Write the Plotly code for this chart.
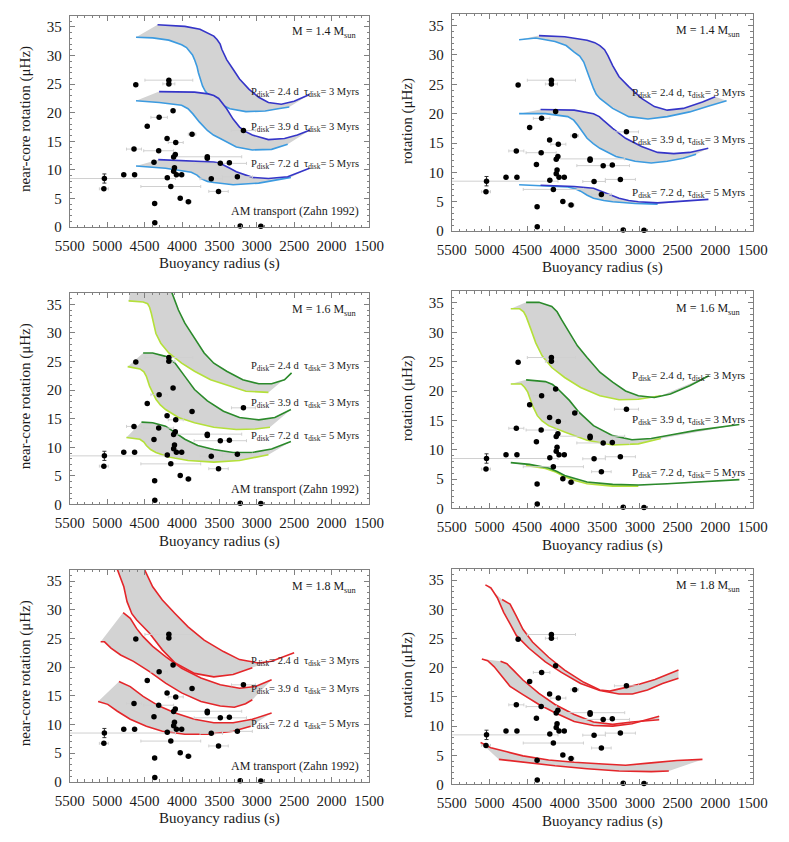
import plotly.graph_objects as go

# ---------------- data ----------------
x_tick_vals = [5500, 5000, 4500, 4000, 3500, 3000, 2500, 2000, 1500]
y_tick_vals = [0, 5, 10, 15, 20, 25, 30, 35]

obs_x = [5045, 5038, 4779, 4634, 4618, 4176, 4176, 4120, 4306, 4465, 3866, 3179, 4200, 4084,
         4642, 4312, 4090, 4112, 4375, 3662, 3662, 3488, 3367, 4101, 4112, 4075, 4005, 4197,
         3609, 3260, 4150, 4024, 3915, 3512, 4366, 4364, 3222, 2946]
obs_y = [6.7, 8.5, 9.15, 9.15, 24.9, 25.7, 25.05, 20.35, 19.2, 17.65, 16.25, 16.9, 15.5, 14.8,
         13.65, 13.35, 12.7, 12.25, 11.35, 12.3, 12.05, 11.15, 11.25, 10.4, 9.75, 9.15, 9.15, 8.65,
         8.45, 8.8, 7.1, 5.05, 4.45, 6.25, 4.15, 0.75, 0.2, 0.15]
obs_xerr = [60, 950, 0, 0, 0, 320, 80, 0, 110, 0, 50, 160, 0, 100,
            100, 200, 0, 0, 0, 460, 0, 350, 0, 0, 0, 0, 0, 0,
            150, 200, 400, 0, 40, 130, 0, 0, 0, 0]
obs_yerr = [0, 0.8, 0, 0, 0, 0, 0, 0, 0, 0, 0, 0, 0, 0,
            0, 0, 0, 0, 0, 0, 0, 0, 0, 0, 0, 0, 0, 0,
            0, 0, 0, 0, 0, 0, 0, 0, 0, 0]

# Panel 1: M = 1.4, near-core rotation (Zahn 1992)
p1_a_up = [(4327, 35.4), (3962, 35.1), (3760, 34.6), (3661, 34.0), (3575, 33.4), (3532, 32.8), (3490, 32.0),
           (3468, 31.1), (3403, 29.3), (3317, 27.6), (3231, 25.9), (3103, 24.1), (2974, 22.7), (2845, 21.8),
           (2673, 21.5), (2501, 22.0), (2295, 23.2)]
p1_a_lo = [(4615, 33.2), (4392, 33.1), (4177, 32.7), (4005, 31.9), (3940, 31.4), (3897, 30.8), (3860, 30.1),
           (3833, 29.3), (3800, 28.1), (3781, 27.0), (3726, 24.7), (3690, 23.8), (3640, 23.0), (3532, 21.8),
           (3360, 20.7), (3146, 20.2), (2888, 20.3), (2716, 20.7), (2566, 21.0)]
p1_b_up = [(4306, 23.7), (3833, 23.6), (3650, 23.3), (3575, 23.0), (3510, 22.5), (3468, 21.8), (3403, 20.7),
           (3317, 18.9), (3231, 17.5), (3150, 16.7), (3060, 16.1), (2845, 15.3), (2630, 15.5), (2458, 16.1),
           (2286, 17.0)]
p1_b_lo = [(4615, 22.1), (4306, 21.8), (4005, 21.3), (3920, 20.7), (3855, 19.8), (3769, 18.4), (3661, 16.9),
           (3580, 16.1), (3489, 15.5), (3274, 14.0), (3060, 13.5), (2802, 13.6), (2587, 14.5)]
p1_c_up = [(4318, 11.8), (3876, 11.6), (3575, 11.4), (3500, 11.2), (3446, 10.9), (3360, 10.3), (3274, 9.7),
           (3160, 9.1), (3060, 8.7), (2845, 8.5), (2587, 8.8), (2295, 10.3)]
p1_c_lo = [(4615, 10.7), (4220, 10.3), (3876, 9.6), (3800, 9.1), (3747, 8.5), (3660, 8.0), (3575, 7.8),
           (3317, 7.4), (2974, 7.7), (2544, 8.7)]

# Panel 2: M = 1.4, rotation
p2_a_up = [(4341, 33.3), (4000, 33.1), (3702, 32.5), (3600, 32.1), (3532, 31.6), (3470, 30.9), (3425, 29.9),
           (3362, 28.2), (3277, 26.3), (3149, 24.6), (2978, 22.6), (2808, 21.2), (2637, 20.6), (2424, 20.9),
           (2169, 22.0), (2000, 22.9)]
p2_a_lo = [(4605, 32.6), (4384, 32.9), (4128, 32.3), (3980, 31.6), (3873, 30.5), (3800, 29.8), (3746, 28.8),
           (3710, 27.7), (3681, 26.5), (3617, 24.3), (3580, 23.3), (3532, 22.6), (3362, 20.9), (3149, 19.5),
           (2893, 19.1), (2637, 19.5), (2339, 20.3), (2084, 21.3), (1849, 22.2)]
p2_b_up = [(4320, 20.7), (3873, 20.6), (3617, 20.0), (3540, 19.5), (3489, 18.9), (3362, 17.5), (3191, 15.8),
           (2978, 14.4), (2765, 13.4), (2550, 13.2), (2339, 13.4), (2092, 14.1)]
p2_b_lo = [(4605, 20.0), (4256, 20.0), (3958, 19.5), (3880, 18.9), (3830, 18.1), (3760, 16.9), (3702, 15.8),
           (3620, 14.9), (3532, 14.1), (3319, 12.7), (3064, 11.9), (2850, 11.6), (2637, 11.9), (2424, 12.4),
           (2254, 13.1)]
p2_c_up = [(4320, 7.8), (3873, 7.6), (3617, 7.3), (3530, 6.9), (3447, 6.5), (3277, 5.6), (3150, 5.2),
           (3021, 5.0), (2765, 4.8), (2510, 5.0), (2190, 5.3), (2090, 5.4)]
p2_c_lo = [(4605, 7.9), (4256, 7.7), (3958, 7.5), (3860, 7.2), (3788, 6.8), (3700, 6.1), (3617, 5.6),
           (3480, 5.2), (3362, 5.0), (3064, 4.7), (2765, 4.6)]

# Panel 3: M = 1.6, near-core rotation (Zahn 1992)
p3_a_up = [(4650, 41.0), (4300, 40.0), (4134, 37.0), (4048, 34.0), (3962, 31.7), (3876, 29.9), (3790, 28.2),
           (3704, 26.5), (3575, 24.7), (3403, 23.3), (3188, 21.8), (2974, 21.1), (2802, 21.1), (2630, 21.8),
           (2535, 23.0)]
p3_a_lo = [(4714, 35.6), (4520, 35.4), (4460, 35.1), (4434, 34.5), (4410, 33.4), (4392, 32.2), (4349, 29.9),
           (4284, 28.2), (4177, 26.5), (4005, 24.7), (3833, 23.3), (3618, 21.8), (3360, 20.7), (3146, 19.8),
           (2845, 19.6)]
p3_b_up = [(4520, 26.5), (4392, 26.5), (4220, 25.9), (4091, 24.7), (3962, 22.4), (3833, 20.1), (3661, 18.1),
           (3446, 16.3), (3231, 15.2), (2974, 14.8), (2759, 15.2), (2544, 16.6)]
p3_b_lo = [(4727, 24.1), (4563, 23.7), (4510, 23.2), (4477, 22.4), (4434, 20.7), (4349, 18.4), (4290, 17.4),
           (4220, 16.6), (4048, 15.2), (3833, 14.3), (3575, 13.5), (3274, 13.1), (3017, 13.2), (2824, 13.5)]
p3_c_up = [(4542, 14.4), (4392, 14.3), (4220, 13.7), (4091, 12.6), (3962, 11.4), (3790, 10.3), (3575, 9.6),
           (3317, 9.1), (3060, 9.1), (2802, 9.7), (2544, 11.0)]
p3_c_lo = [(4744, 11.7), (4563, 11.4), (4510, 10.9), (4477, 10.3), (4420, 9.6), (4349, 9.1), (4177, 8.3),
           (3919, 7.7), (3575, 7.4), (3231, 7.7), (2845, 8.7)]

# Panel 4: M = 1.6, rotation
p4_a_up = [(4512, 35.1), (4341, 35.1), (4171, 34.4), (4100, 33.5), (4043, 32.2), (3937, 29.9), (3830, 27.7),
           (3702, 25.7), (3532, 23.2), (3362, 21.5), (3191, 20.0), (3021, 19.2), (2808, 18.9), (2595, 19.5),
           (2339, 20.9), (2084, 22.6)]
p4_a_lo = [(4716, 34.0), (4597, 34.0), (4545, 33.5), (4512, 32.7), (4448, 30.5), (4384, 28.2), (4299, 26.0),
           (4171, 24.0), (4000, 22.3), (3788, 20.6), (3532, 19.2), (3277, 18.5), (3021, 18.6), (2722, 19.2)]
p4_b_up = [(4512, 21.9), (4256, 21.6), (4160, 21.1), (4086, 20.3), (3937, 18.4), (3810, 16.4), (3617, 14.1),
           (3362, 12.4), (3106, 11.7), (2850, 11.9), (2595, 12.5), (2254, 13.3), (1679, 14.3)]
p4_b_lo = [(4716, 21.2), (4576, 21.2), (4530, 20.6), (4490, 19.8), (4427, 17.5), (4363, 15.8), (4300, 14.9),
           (4213, 14.1), (4000, 13.0), (3702, 11.6), (3362, 10.8), (3021, 11.0), (2722, 11.9)]
p4_c_up = [(4716, 7.8), (4469, 7.5), (4213, 6.9), (4100, 6.3), (4000, 5.6), (3850, 5.0), (3702, 4.5),
           (3362, 4.1), (3021, 4.0), (2637, 4.2), (2169, 4.5), (1679, 4.9)]
p4_c_lo = [(4512, 7.3), (4256, 6.8), (4120, 6.2), (4000, 5.4), (3850, 4.7), (3702, 4.2), (3362, 3.8),
           (3021, 3.8)]

# Panel 5: M = 1.8, near-core rotation (Zahn 1992)
p5_a_up = [(4580, 40.0), (4520, 37.5), (4392, 34.0), (4263, 31.7), (4091, 29.3), (3919, 27.0), (3704, 24.7),
           (3446, 22.7), (3231, 21.3), (2974, 20.7), (2802, 21.0), (2630, 21.8), (2501, 22.5)]
p5_a_lo = [(4900, 40.0), (4864, 37.0), (4778, 34.0), (4735, 31.4), (4671, 29.3), (4606, 28.2), (4434, 25.9),
           (4263, 23.0), (4091, 20.7), (3833, 18.9), (3575, 18.3), (3317, 18.7), (3060, 19.9)]
p5_b_up = [(4787, 29.5), (4692, 28.5), (4606, 26.7), (4520, 25.3), (4392, 23.6), (4220, 21.8), (4005, 19.8),
           (3747, 18.1), (3489, 16.9), (3231, 16.3), (3017, 16.6), (2802, 17.8)]
p5_b_lo = [(5088, 24.4), (5036, 24.4), (4950, 23.3), (4821, 22.1), (4649, 21.0), (4434, 19.2), (4220, 17.2),
           (4005, 15.5), (3747, 14.0), (3489, 13.2), (3300, 13.0), (3150, 13.6), (3060, 14.3)]
p5_c_up = [(4843, 17.5), (4692, 16.6), (4520, 14.9), (4306, 13.2), (4091, 12.0), (3833, 10.9), (3575, 10.3),
           (3317, 10.3), (3060, 10.9), (2802, 12.0)]
p5_c_lo = [(5122, 14.0), (4993, 13.5), (4864, 12.3), (4692, 10.9), (4477, 9.7), (4263, 8.8), (3962, 8.3),
           (3661, 8.3), (3317, 8.8), (3081, 9.7)]

# Panel 6: M = 1.8, rotation
p6_a_up = [(4831, 31.7), (4725, 30.9), (4640, 28.8), (4554, 26.6), (4427, 24.4), (4213, 21.8), (4000, 19.6),
           (3745, 17.5), (3532, 16.2), (3400, 16.0), (3200, 16.6), (3000, 17.2), (2800, 18.0), (2600, 19.0),
           (2488, 19.6)]
p6_a_lo = [(5053, 34.2), (4980, 33.7), (4895, 32.0), (4810, 29.5), (4725, 27.5), (4640, 25.5), (4470, 23.3),
           (4256, 21.0), (4043, 19.2), (3788, 17.3), (3532, 16.1), (3277, 15.5), (3100, 15.5), (2900, 16.2),
           (2700, 17.3), (2488, 18.2)]
p6_b_up = [(4852, 21.1), (4767, 20.7), (4682, 19.6), (4554, 17.9), (4341, 15.6), (4128, 13.7), (3873, 12.0),
           (3617, 10.7), (3362, 10.3), (3106, 10.7), (2744, 11.1)]
p6_b_lo = [(5100, 21.5), (5023, 21.2), (4938, 20.2), (4831, 18.5), (4725, 16.8), (4554, 15.4), (4341, 13.7),
           (4128, 12.3), (3873, 10.8), (3617, 10.1), (3362, 10.0), (3106, 10.4), (2744, 11.7)]
p6_c_up = [(5117, 7.2), (4980, 6.3), (4767, 5.6), (4554, 4.9), (4213, 4.2), (3873, 3.8), (3490, 3.5),
           (3191, 3.3), (2850, 3.7), (2510, 4.1), (2169, 4.3)]
p6_c_lo = [(4874, 4.3), (4554, 3.8), (4128, 3.2), (3702, 2.7), (3277, 2.3), (2850, 2.2), (2616, 2.3)]

band_labels_left = ["P<sub>disk</sub>= 2.4 d  τ<sub>disk</sub>= 3 Myrs",
                    "P<sub>disk</sub>= 3.9 d  τ<sub>disk</sub>= 3 Myrs",
                    "P<sub>disk</sub>= 7.2 d  τ<sub>disk</sub>= 5 Myrs"]
band_labels_right = ["P<sub>disk</sub>= 2.4 d, τ<sub>disk</sub>= 3 Myrs",
                     "P<sub>disk</sub>= 3.9 d, τ<sub>disk</sub>= 3 Myrs",
                     "P<sub>disk</sub>= 7.2 d, τ<sub>disk</sub>= 5 Myrs"]
mass_labels = ["M = 1.4 M<sub>sun</sub>", "M = 1.4 M<sub>sun</sub>",
               "M = 1.6 M<sub>sun</sub>", "M = 1.6 M<sub>sun</sub>",
               "M = 1.8 M<sub>sun</sub>", "M = 1.8 M<sub>sun</sub>"]

# ---------------- style ----------------
FONT = "Liberation Serif"
FRAME = "#808080"
FILL = "#d3d3d3"
W, H = 789, 842

# panel pixel boxes: (left, right, top, bottom)
boxes = [(57, 368, 15.7, 229.3), (454, 767, 14.0, 233.3),
         (57, 368, 295.7, 509.3), (454, 767, 294.0, 513.3),
         (57, 368, 575.0, 789.3), (454, 767, 574.0, 792.0)]

panels = [
    ([p1_a_up, p1_b_up, p1_c_up], [p1_a_lo, p1_b_lo, p1_c_lo], "#3535c8", "#3c9be0"),
    ([p2_a_up, p2_b_up, p2_c_up], [p2_a_lo, p2_b_lo, p2_c_lo], "#3535c8", "#3c9be0"),
    ([p3_a_up, p3_b_up, p3_c_up], [p3_a_lo, p3_b_lo, p3_c_lo], "#2b8a2b", "#b4e03a"),
    ([p4_a_up, p4_b_up, p4_c_up], [p4_a_lo, p4_b_lo, p4_c_lo], "#2b8a2b", "#b4e03a"),
    ([p5_a_up, p5_b_up, p5_c_up], [p5_a_lo, p5_b_lo, p5_c_lo], "#e4262a", "#e4262a"),
    ([p6_a_up, p6_b_up, p6_c_up], [p6_a_lo, p6_b_lo, p6_c_lo], "#e4262a", "#e4262a"),
]

fig = go.Figure()
layout = dict(width=W, height=H, margin=dict(l=0, r=0, t=0, b=0),
              paper_bgcolor="white", plot_bgcolor="white", showlegend=False,
              font=dict(family=FONT, color="#1a1a1a"))
annotations = []

for i, (ups, los, dark, light) in enumerate(panels):
    n = i + 1
    xa = "x" if n == 1 else f"x{n}"
    ya = "y" if n == 1 else f"y{n}"
    l, r, t, b = boxes[i]
    xdom = [l / W, r / W]
    ydom = [1 - b / H, 1 - t / H]
    axcommon = dict(showline=True, linecolor=FRAME, linewidth=1, mirror="allticks",
                    ticks="inside", ticklen=5, tickwidth=1, tickcolor=FRAME,
                    showgrid=False, zeroline=False,
                    tickfont=dict(family=FONT, size=15, color="#1a1a1a"))
    layout["xaxis" if n == 1 else f"xaxis{n}"] = dict(
        axcommon, domain=xdom, anchor=ya, range=[5500, 1500],
        tickmode="array", tickvals=x_tick_vals, ticklabelstandoff=5,
        minor=dict(ticks="inside", ticklen=2.5, dtick=100, tick0=0, tickcolor=FRAME, showgrid=False))
    layout["yaxis" if n == 1 else f"yaxis{n}"] = dict(
        axcommon, domain=ydom, anchor=xa, range=[0, 37],
        tickmode="array", tickvals=y_tick_vals, ticklabelstandoff=4,
        minor=dict(ticks="inside", ticklen=2.5, dtick=1, tick0=0, tickcolor=FRAME, showgrid=False))

    for up, lo in zip(ups, los):
        ux = [p[0] for p in up]
        uy = [p[1] for p in up]
        lx = [p[0] for p in lo]
        ly = [p[1] for p in lo]
        fig.add_trace(go.Scatter(x=ux + lx[::-1], y=uy + ly[::-1], mode="lines", fill="toself",
                                 fillcolor=FILL, line=dict(width=0), hoverinfo="skip",
                                 xaxis=xa, yaxis=ya))
        fig.add_trace(go.Scatter(x=lx, y=ly, mode="lines", line=dict(color=light, width=1.6),
                                 xaxis=xa, yaxis=ya))
        fig.add_trace(go.Scatter(x=ux, y=uy, mode="lines", line=dict(color=dark, width=1.6),
                                 xaxis=xa, yaxis=ya))

    fig.add_trace(go.Scatter(
        x=obs_x, y=obs_y, mode="markers", cliponaxis=False,
        marker=dict(color="black", size=5.5),
        error_x=dict(type="data", array=obs_xerr, color="#d0d0d0", thickness=1, width=1.5),
        error_y=dict(type="data", array=obs_yerr, color="#333333", thickness=1, width=2),
        xaxis=xa, yaxis=ya))

    # axis titles
    annotations.append(dict(text="Buoyancy radius (s)", xref="paper", yref="paper",
                            x=(l + r) / 2 / W, y=1 - (b + 37) / H, xanchor="center", yanchor="middle",
                            showarrow=False, font=dict(family=FONT, size=15, color="#1a1a1a")))
    ytitle = "near-core rotation (μHz)" if i % 2 == 0 else "rotation (μHz)"
    ytx = 11 if i % 2 == 0 else 408
    annotations.append(dict(text=ytitle, xref="paper", yref="paper", textangle=-90,
                            x=ytx / W, y=1 - ((t + b) / 2 - 2) / H, xanchor="center", yanchor="middle",
                            showarrow=False, font=dict(family=FONT, size=15, color="#1a1a1a")))
    # mass label
    annotations.append(dict(text=mass_labels[i], xref=f"{xa} domain", yref=f"{ya} domain",
                            x=0.968, y=0.92, xanchor="right", yanchor="middle", showarrow=False,
                            font=dict(family=FONT, size=12, color="#1a1a1a")))

# band labels
left_pos = {0: [0.638, 0.473, 0.298], 2: [0.652, 0.476, 0.320], 4: [0.566, 0.434, 0.270]}
right_pos = {1: [0.634, 0.418, 0.175], 3: [0.611, 0.406, 0.162]}
for i, ys in left_pos.items():
    n = i + 1
    xa = "x" if n == 1 else f"x{n}"
    ya = "y" if n == 1 else f"y{n}"
    for lab, yy in zip(band_labels_left, ys):
        annotations.append(dict(text=lab, xref=f"{xa} domain", yref=f"{ya} domain", x=0.974, y=yy,
                                xanchor="right", yanchor="middle", showarrow=False,
                                font=dict(family=FONT, size=10.5, color="#1a1a1a")))
    annotations.append(dict(text="AM transport (Zahn 1992)", xref=f"{xa} domain", yref=f"{ya} domain",
                            x=0.974, y=0.075, xanchor="right", yanchor="middle", showarrow=False,
                            font=dict(family=FONT, size=12, color="#1a1a1a")))
for i, ys in right_pos.items():
    n = i + 1
    xa = f"x{n}"
    ya = f"y{n}"
    for lab, yy in zip(band_labels_right, ys):
        annotations.append(dict(text=lab, xref=f"{xa} domain", yref=f"{ya} domain", x=0.98, y=yy,
                                xanchor="right", yanchor="middle", showarrow=False,
                                font=dict(family=FONT, size=11, color="#1a1a1a")))

layout["annotations"] = annotations
fig.update_layout(**layout)
fig.write_html("out.html")
